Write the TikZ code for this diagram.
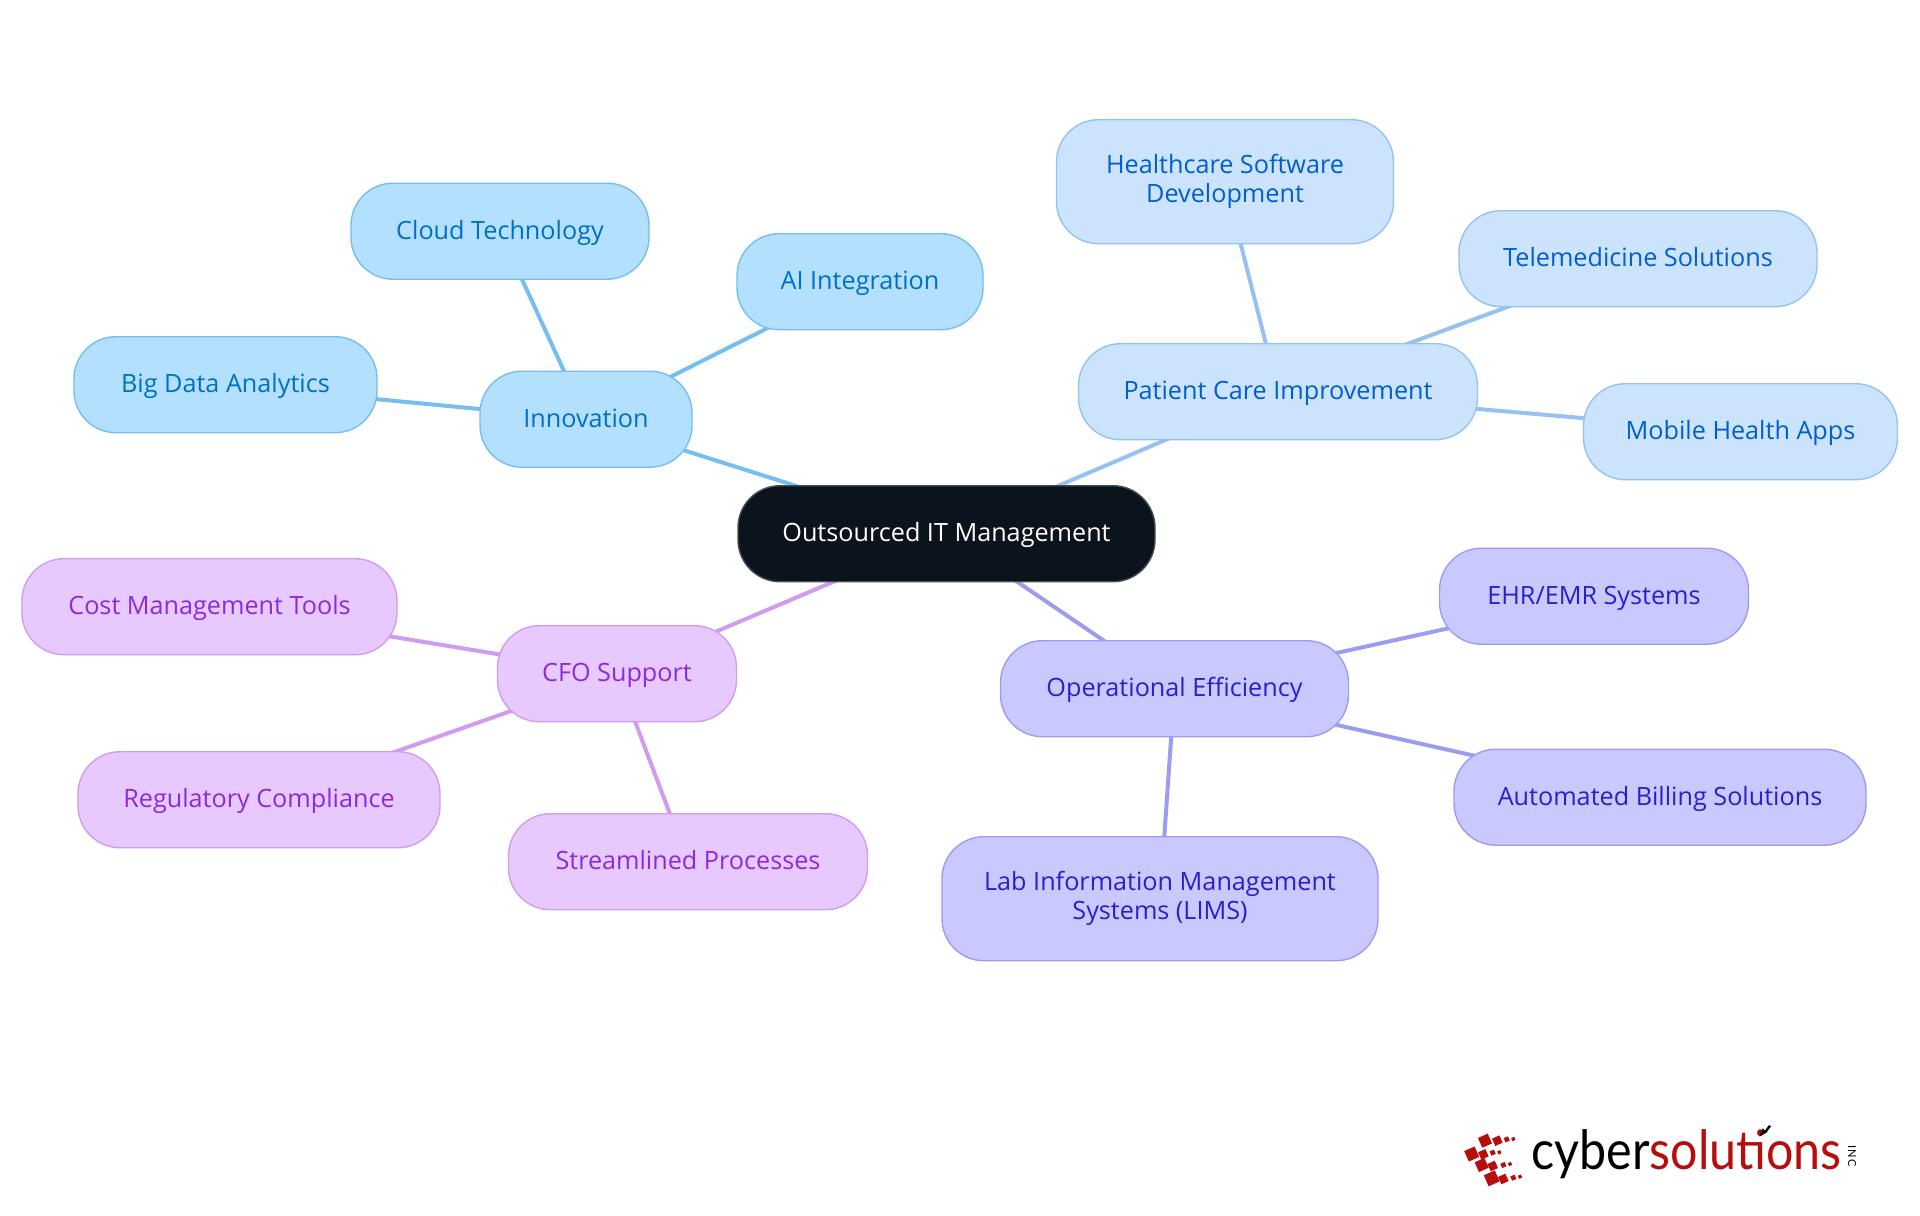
\documentclass[tikz,border=0pt]{standalone}
\usepackage{fontspec}
\setmainfont{Open Sans}
\newfontfamily\logofont{Lato}
\newfontfamily\incfont{Lato}
\usetikzlibrary{backgrounds}
\definecolor{rootfill}{HTML}{0B131C}
\definecolor{rootline}{HTML}{4A4F55}
\definecolor{bluefill}{HTML}{B3E0FF}
\definecolor{blueline}{HTML}{75BEF0}
\definecolor{bluetext}{HTML}{0070C4}
\definecolor{skyfill}{HTML}{CCE3FD}
\definecolor{skyline}{HTML}{96C2F2}
\definecolor{skytext}{HTML}{005FCC}
\definecolor{violetfill}{HTML}{C9C9FF}
\definecolor{violetline}{HTML}{9C9CF2}
\definecolor{violettext}{HTML}{2A1FCF}
\definecolor{plumfill}{HTML}{E8C9FF}
\definecolor{plumline}{HTML}{CF9CF0}
\definecolor{plumtext}{HTML}{8A2BDB}
\definecolor{logored}{HTML}{B80D0D}
\tikzset{
  x=0.5pt,y=-0.5pt,
  box/.style={rectangle,rounded corners=21pt,line width=0.7pt,align=center,inner sep=0pt,font=\fontsize{12.6}{14.4}\selectfont},
  one/.style={text height=10.5pt,text depth=2.5pt},
  rootbox/.style={box,fill=rootfill,draw=rootline,text=white},
  bluebox/.style={box,fill=bluefill,draw=blueline,text=bluetext},
  skybox/.style={box,fill=skyfill,draw=skyline,text=skytext},
  violetbox/.style={box,fill=violetfill,draw=violetline,text=violettext},
  plumbox/.style={box,fill=plumfill,draw=plumline,text=plumtext},
  link/.style={line width=2pt},
  sq/.style={fill=logored,rotate=24,inner sep=0pt,anchor=center}
}
% name, cx, cy, w, h (px), style, text
\newcommand{\nd}[7]{\node[#6,minimum width=#4*0.5pt,minimum height=#5*0.5pt] (#1) at (#2,#3+0.7) {#7};}
\newcommand{\lsq}[3]{\node[sq,minimum size=#3*0.1667pt] at ({1440+#1/3},{1100+#2/3}) {};}
\begin{document}
\begin{tikzpicture}
\useasboundingbox (0,0) rectangle (1920,1215);
\nd{root}{946.5}{533}{417}{96}{rootbox,one}{Outsourced IT Management}
\nd{inn}{586}{418.5}{212}{96}{bluebox,one}{Innovation}
\nd{ai}{860}{281}{246}{96}{bluebox,one}{AI Integration}
\nd{cloud}{500}{230.5}{298}{96}{bluebox,one}{Cloud Technology}
\nd{big}{225.5}{384}{303}{96}{bluebox,one}{Big Data Analytics}
\nd{pat}{1278}{391}{399}{96}{skybox,one}{Patient Care Improvement}
\nd{hea}{1225}{181}{337}{124}{skybox}{Healthcare Software\\Development}
\nd{tel}{1638}{258}{358}{96}{skybox,one}{Telemedicine Solutions}
\nd{mob}{1740.5}{431}{314}{96}{skybox,one}{Mobile Health Apps}
\nd{cfo}{617}{673}{239}{96}{plumbox,one}{CFO Support}
\nd{cost}{209.5}{606}{375}{96}{plumbox,one}{Cost Management Tools}
\nd{reg}{259}{799}{362}{96}{plumbox,one}{Regulatory Compliance}
\nd{str}{688}{861}{359}{96}{plumbox,one}{Streamlined Processes}
\nd{ope}{1174.5}{688}{348}{96}{violetbox,one}{Operational Efficiency}
\nd{ehr}{1594}{595.5}{309}{96}{violetbox,one}{EHR/EMR Systems}
\nd{aut}{1660}{796.5}{412}{96}{violetbox,one}{Automated Billing Solutions}
\nd{lab}{1160}{898}{436}{124}{violetbox}{Lab Information Management\\Systems (LIMS)}
\begin{pgfonlayer}{background}
\draw[link,blueline] (root.center)--(inn.center);
\draw[link,blueline] (inn.center)--(ai.center);
\draw[link,blueline] (inn.center)--(cloud.center);
\draw[link,blueline] (inn.center)--(big.center);
\draw[link,skyline] (root.center)--(pat.center);
\draw[link,skyline] (pat.center)--(hea.center);
\draw[link,skyline] (pat.center)--(tel.center);
\draw[link,skyline] (pat.center)--(mob.center);
\draw[link,plumline] (root.center)--(cfo.center);
\draw[link,plumline] (cfo.center)--(cost.center);
\draw[link,plumline] (cfo.center)--(reg.center);
\draw[link,plumline] (cfo.center)--(str.center);
\draw[link,violetline] (root.center)--(ope.center);
\draw[link,violetline] (ope.center)--(ehr.center);
\draw[link,violetline] (ope.center)--(aut.center);
\draw[link,violetline] (ope.center)--(lab.center);
\end{pgfonlayer}
% logo
\lsq{135}{122}{32}\lsq{172}{122}{24}\lsq{200}{118}{14}\lsq{220}{117}{10}
\lsq{95}{162}{34}\lsq{130}{163}{24}\lsq{158}{158}{14}\lsq{178}{157}{10}
\lsq{125}{195}{32}\lsq{158}{198}{24}\lsq{190}{195}{14}\lsq{210}{192}{10}
\lsq{155}{235}{36}\lsq{190}{237}{24}\lsq{220}{233}{14}\lsq{240}{230}{10}
\node[anchor=base west,inner sep=0pt,xscale=1,yscale=1.12,font=\logofont\fontsize{24.2}{28}\selectfont] (lg) at (1531,1169) {{\color{black}cyber}{\color{logored}solutions}};
\node[rotate=-90,inner sep=0pt,font=\incfont\fontsize{5.5}{6}\selectfont] (inc) at (1852,1156) {I\hspace{0.8pt}N\hspace{0.8pt}C};
\fill[black] (1759.3,1136.7) -- (1762.7,1128.3) -- (1765,1130.5) -- (1769,1125) -- (1771,1126.5) -- (1766.5,1132) -- (1768,1131.7) -- cycle;
\end{tikzpicture}
\end{document}
